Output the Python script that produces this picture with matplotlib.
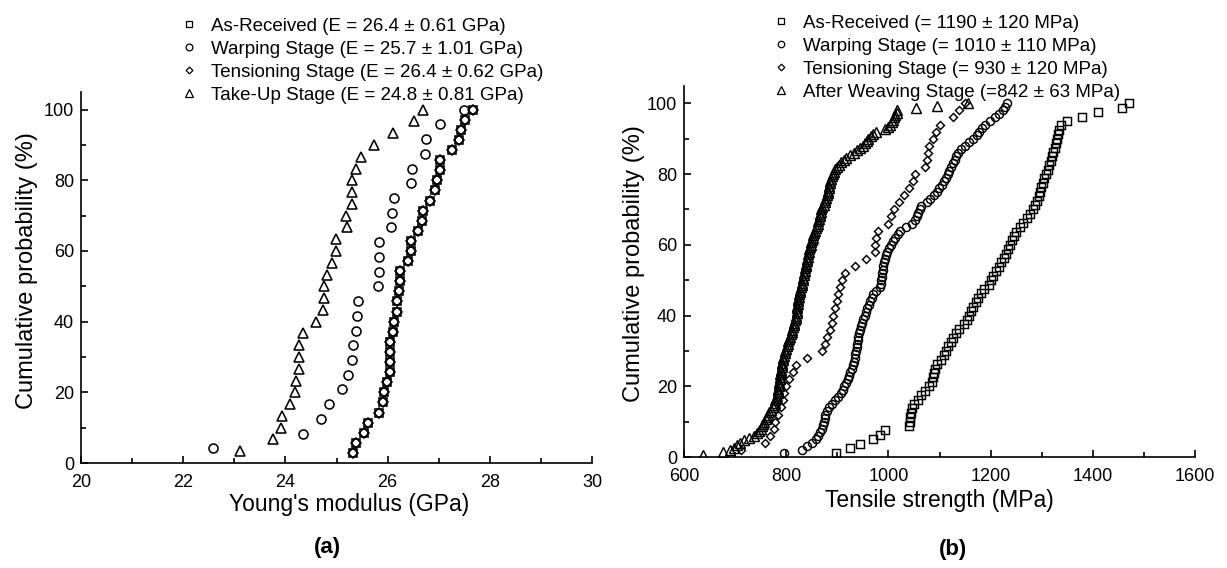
import matplotlib
matplotlib.use("Agg")
import matplotlib.pyplot as plt
import numpy as np

plt.rcParams['font.family'] = ['Liberation Sans', 'DejaVu Sans']

# ---------------- (a) Young's modulus (GPa) ----------------
mod_labels = ["As-Received (E = 26.4 \u00b1 0.61 GPa)",
              "Warping Stage (E = 25.7 \u00b1 1.01 GPa)",
              "Tensioning Stage (E = 26.4 \u00b1 0.62 GPa)",
              "Take-Up Stage (E = 24.8 \u00b1 0.81 GPa)"]

mod_as_received = [25.33, 25.39, 25.53, 25.61, 25.84, 25.91, 25.92, 25.99, 26.04, 26.04,
                   26.04, 26.05, 26.10, 26.12, 26.18, 26.18, 26.23, 26.24, 26.25, 26.39,
                   26.46, 26.46, 26.59, 26.67, 26.69, 26.82, 26.93, 26.97, 27.03, 27.03,
                   27.26, 27.39, 27.44, 27.52, 27.67]
mod_tensioning = [25.33, 25.39, 25.53, 25.61, 25.84, 25.91, 25.92, 25.99, 26.04, 26.04,
                  26.04, 26.05, 26.10, 26.12, 26.18, 26.18, 26.23, 26.24, 26.25, 26.39,
                  26.46, 26.46, 26.59, 26.67, 26.69, 26.82, 26.93, 26.97, 27.03, 27.03,
                  27.26, 27.39, 27.44, 27.52, 27.67]
mod_warping = [22.58, 24.34, 24.69, 24.86, 25.10, 25.22, 25.31, 25.32, 25.39, 25.40,
               25.43, 25.82, 25.84, 25.84, 25.84, 26.07, 26.09, 26.12, 26.46, 26.48,
               26.74, 26.75, 27.03, 27.49]
mod_takeup = [23.11, 23.75, 23.92, 23.93, 24.09, 24.18, 24.20, 24.27, 24.27, 24.27,
              24.35, 24.60, 24.73, 24.75, 24.75, 24.82, 24.92, 24.99, 24.99, 25.20,
              25.19, 25.30, 25.30, 25.30, 25.39, 25.48, 25.73, 26.10, 26.51, 26.69]

# ---------------- (b) Tensile strength (MPa) ----------------
str_labels = ["As-Received (= 1190 \u00b1 120 MPa)",
              "Warping Stage (= 1010 \u00b1 110 MPa)",
              "Tensioning Stage (= 930 \u00b1 120 MPa)",
              "After Weaving Stage (=842 \u00b1 63 MPa)"]

str_as_received = [897, 925, 945, 970, 984, 994, 1040, 1042, 1043, 1044,
                   1046, 1051, 1057, 1064, 1071, 1080, 1086, 1087, 1089, 1091,
                   1095, 1103, 1108, 1113, 1117, 1122, 1127, 1133, 1139, 1147,
                   1154, 1157, 1161, 1166, 1171, 1175, 1181, 1188, 1196, 1200,
                   1205, 1211, 1216, 1221, 1226, 1230, 1234, 1237, 1241, 1245,
                   1250, 1257, 1264, 1271, 1278, 1282, 1287, 1290, 1294, 1297,
                   1299, 1302, 1305, 1308, 1312, 1315, 1318, 1320, 1323, 1326,
                   1328, 1329, 1331, 1333, 1337, 1349, 1379, 1410, 1457, 1470]
str_warping = [796, 830, 840, 850, 859, 863, 866, 870, 872, 873,
               875, 876, 879, 884, 889, 895, 902, 907, 911, 914,
               917, 920, 922, 925, 928, 931, 933, 934, 935, 937,
               938, 939, 940, 941, 943, 945, 947, 949, 951, 954,
               957, 959, 962, 964, 967, 970, 976, 983, 986, 986,
               987, 988, 989, 990, 992, 994, 996, 998, 1001, 1005,
               1009, 1013, 1018, 1023, 1035, 1047, 1052, 1055, 1058, 1061,
               1063, 1075, 1082, 1090, 1095, 1099, 1104, 1108, 1112, 1116,
               1119, 1122, 1126, 1130, 1133, 1137, 1142, 1150, 1158, 1165,
               1173, 1178, 1184, 1189, 1198, 1208, 1217, 1224, 1228, 1232]
str_tensioning = [712, 759, 769, 776, 779, 784, 790, 793, 796, 800,
                  805, 814, 820, 840, 870, 876, 880, 885, 889, 891,
                  896, 899, 901, 905, 910, 916, 935, 957, 973, 974,
                  976, 980, 999, 1005, 1011, 1021, 1030, 1040, 1049, 1052,
                  1072, 1075, 1078, 1079, 1088, 1094, 1100, 1127, 1138, 1150]
str_weaving = [637, 677, 690, 697, 703, 710, 717, 728, 737, 742,
               747, 750, 752, 755, 757, 760, 762, 765, 767, 770,
               774, 776, 778, 779, 781, 782, 783, 784, 784, 785,
               786, 786, 787, 788, 788, 789, 790, 791, 791, 792,
               793, 794, 795, 797, 798, 800, 801, 803, 804, 806,
               808, 809, 811, 812, 814, 815, 816, 817, 819, 820,
               821, 821, 822, 822, 823, 824, 824, 825, 826, 827,
               827, 828, 830, 831, 832, 833, 834, 835, 836, 837,
               838, 839, 840, 841, 842, 843, 844, 845, 847, 848,
               849, 850, 852, 853, 855, 856, 858, 860, 862, 863,
               864, 866, 867, 868, 869, 871, 873, 875, 876, 878,
               880, 881, 882, 883, 884, 885, 886, 888, 890, 892,
               894, 895, 899, 903, 908, 913, 918, 925, 932, 939,
               945, 950, 954, 958, 961, 966, 970, 976, 994, 999,
               1003, 1007, 1009, 1011, 1013, 1016, 1017, 1054, 1096, 1156]


def cum_prob(vals):
    n = len(vals)
    return np.arange(1, n + 1) / n * 100.0


W, H = 1227, 568
fig = plt.figure(figsize=(W / 100, H / 100), dpi=100)

FS_TICK = 13
FS_XLAB = 16.5
FS_YLAB = 17
FS_LEG = 13.5


def style_axes(ax, xmaj, xmin):
    for s in ['top', 'right']:
        ax.spines[s].set_visible(False)
    for s in ['left', 'bottom']:
        ax.spines[s].set_linewidth(1.2)
    ax.set_ylim(0, 105)
    ax.set_yticks([0, 20, 40, 60, 80, 100])
    ax.set_yticks([10, 30, 50, 70, 90], minor=True)
    ax.set_xticks(xmaj)
    ax.set_xticks(xmin, minor=True)
    ax.tick_params(which='both', direction='in', width=1.2, labelsize=FS_TICK)
    ax.tick_params(which='major', length=5)
    ax.tick_params(which='minor', length=3.5)
    ax.tick_params(axis='x', which='major', pad=8)
    ax.tick_params(axis='y', which='major', pad=5)
    ax.set_ylabel("Cumulative probability (%)", fontsize=FS_YLAB)


# ---- left axes
ax1 = fig.add_axes([81 / W, 1 - 463 / H, (592 - 81) / W, (463 - 92) / H])
ax1.set_xlim(20, 30)
style_axes(ax1, np.arange(20, 31, 2), np.arange(21, 30, 2))
kw = dict(linestyle='none', mfc='none', mec='black', mew=1.15)
ax1.plot(mod_as_received, cum_prob(mod_as_received), marker='s', ms=5.5, label=mod_labels[0], **kw)
ax1.plot(mod_warping, cum_prob(mod_warping), marker='o', ms=6.5, label=mod_labels[1], **kw)
ax1.plot(mod_tensioning, cum_prob(mod_tensioning), marker='D', ms=4.6, label=mod_labels[2], **kw)
ax1.plot(mod_takeup, cum_prob(mod_takeup), marker='^', ms=7, label=mod_labels[3], **kw)
ax1.set_xlabel("Young's modulus (GPa)", fontsize=FS_XLAB)
ax1.xaxis.set_label_coords(0.525, -0.08)
ax1.yaxis.set_label_coords(-0.084, 0.52)
leg1 = ax1.legend(loc='upper left', bbox_to_anchor=(166 / W, 1 - 4.5 / H), bbox_transform=fig.transFigure,
                  frameon=False, fontsize=FS_LEG, handlelength=1.0, handletextpad=0.7,
                  labelspacing=0.31, borderpad=0.2, markerscale=0.75)
for h in leg1.legend_handles:
    h.set_markeredgewidth(0.9)

# ---- right axes
ax2 = fig.add_axes([684 / W, 1 - 457 / H, (1195 - 684) / W, 105 * 3.537 / H])
ax2.set_xlim(600, 1600)
style_axes(ax2, np.arange(600, 1601, 200), np.arange(700, 1600, 200))
kw2 = dict(linestyle='none', mfc='none', mec='black', mew=1.05)
ax2.plot(str_as_received, cum_prob(str_as_received), marker='s', ms=5.6, label=str_labels[0], **kw2)
ax2.plot(str_warping, cum_prob(str_warping), marker='o', ms=5.8, label=str_labels[1], **kw2)
ax2.plot(str_tensioning, cum_prob(str_tensioning), marker='D', ms=4.2, label=str_labels[2], **kw2)
ax2.plot(str_weaving, cum_prob(str_weaving), marker='^', ms=6.6, label=str_labels[3], **kw2)
ax2.set_xlabel("Tensile strength (MPa)", fontsize=FS_XLAB)
ax2.xaxis.set_label_coords(0.5, -0.085)
ax2.yaxis.set_label_coords(-0.076, 0.52)
leg2 = ax2.legend(loc='upper left', bbox_to_anchor=(758 / W, 1 - 1.5 / H), bbox_transform=fig.transFigure,
                  frameon=False, fontsize=FS_LEG, handlelength=1.0, handletextpad=0.7,
                  labelspacing=0.31, borderpad=0.2, markerscale=0.8)
for h in leg2.legend_handles:
    h.set_markeredgewidth(0.9)

fig.text(327 / W, 1 - 548 / H, "(a)", fontsize=16, fontweight='bold', ha='center', va='center')
fig.text(953 / W, 1 - 550 / H, "(b)", fontsize=16, fontweight='bold', ha='center', va='center')

fig.savefig("out.png", dpi=100, facecolor='white')
